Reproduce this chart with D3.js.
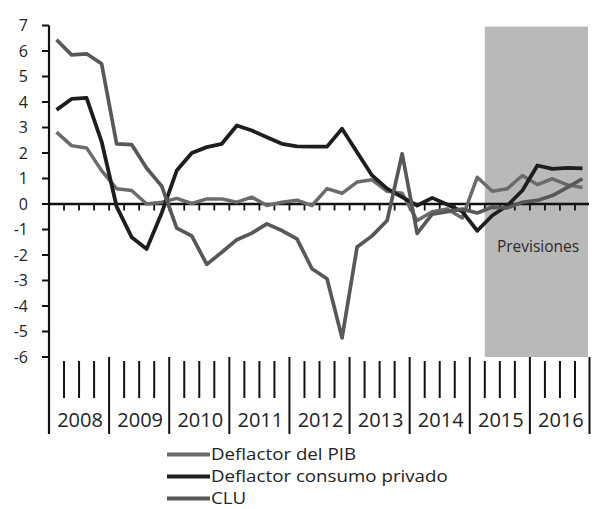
<!DOCTYPE html>
<html>
<head>
<meta charset="utf-8">
<script src="https://cdn.jsdelivr.net/npm/d3@7/dist/d3.min.js"></script>
<style>
  body { margin: 0; background: #fff; }
  text { font-family: "Open Sans", sans-serif; fill: #222; }
</style>
</head>
<body>
<div id="chart"></div>
<script>
var years = [2008, 2009, 2010, 2011, 2012, 2013, 2014, 2015, 2016]
var quarters = years.flatMap(y => ['I', 'II', 'III', 'IV'].map(q => y + ' ' + q))
var forecastFrom = '2015 II'

var yTicks = [7, 6, 5, 4, 3, 2, 1, 0, -1, -2, -3, -4, -5, -6]

var pib = [2.82, 2.29, 2.2, 1.31, 0.6, 0.53, 0.0, 0.07, 0.22, 0.02, 0.2, 0.2,
  0.07, 0.27, -0.06, 0.07, 0.15, -0.06, 0.6, 0.42, 0.86, 0.95, 0.5, 0.42,
  -0.65, -0.3, -0.2, -0.55, 1.05, 0.5, 0.6, 1.12, 0.76, 0.99, 0.75, 0.65]
var consumo = [3.69, 4.12, 4.16, 2.45, -0.1, -1.3, -1.76, -0.35, 1.31, 2.0, 2.23, 2.36,
  3.08, 2.88, 2.62, 2.36, 2.26, 2.25, 2.25, 2.95, 2.03, 1.12, 0.6, 0.27,
  -0.06, 0.24, -0.02, -0.3, -1.05, -0.45, -0.06, 0.53, 1.51, 1.38, 1.42, 1.4]
var clu = [6.44, 5.85, 5.89, 5.5, 2.36, 2.33, 1.4, 0.7, -0.95, -1.25, -2.37, -1.89,
  -1.4, -1.14, -0.78, -1.04, -1.37, -2.54, -2.93, -5.25, -1.69, -1.25, -0.65, 1.97,
  -1.15, -0.4, -0.3, -0.2, -0.35, -0.12, -0.15, 0.07, 0.14, 0.33, 0.65, 0.99]

var series = [
  {name: 'Deflactor del PIB', values: pib, color: '#6b6b6b', width: 3.5},
  {name: 'Deflactor consumo privado', values: consumo, color: '#1e1e1e', width: 3.8},
  {name: 'CLU', values: clu, color: '#585858', width: 3.7}
]

var svg = d3.select('#chart').append('svg').attr('width', 592).attr('height', 509)

var x = d3.scaleBand().domain(quarters).range([49, 590])
var y = d3.scaleLinear().domain([-6, 7]).range([357, 25.5])
var cx = q => x(q) + x.bandwidth() / 2

// forecast shading
svg.append('rect')
  .attr('x', x(forecastFrom)).attr('y', y(7) + 1)
  .attr('width', 588 - x(forecastFrom)).attr('height', y(-6) - y(7) - 1)
  .attr('fill', '#b9b9b9')

svg.append('text')
  .attr('x', 538).attr('y', 252)
  .attr('text-anchor', 'middle')
  .style('font-size', '15.5px').style('fill', '#2a2a2a')
  .text('Previsiones')

// y axis
var yAxis = svg.append('g')
yAxis.append('line')
  .attr('x1', 49).attr('x2', 49).attr('y1', y(7)).attr('y2', 434)
  .attr('stroke', '#111').attr('stroke-width', 2.2)
yAxis.selectAll('line.tick').data(yTicks).join('line')
  .attr('class', 'tick')
  .attr('x1', 42).attr('x2', 49).attr('y1', d => y(d)).attr('y2', d => y(d))
  .attr('stroke', '#111').attr('stroke-width', 2)
yAxis.selectAll('text').data(yTicks).join('text')
  .attr('x', 28).attr('y', d => y(d) + 5.8)
  .attr('text-anchor', 'end')
  .style('font-size', '16px')
  .text(d => d)

// zero line with quarter ticks
svg.append('line')
  .attr('x1', 49).attr('x2', 589).attr('y1', y(0)).attr('y2', y(0))
  .attr('stroke', '#111').attr('stroke-width', 2.4)
svg.selectAll('line.zt').data(quarters.slice(1)).join('line')
  .attr('class', 'zt')
  .attr('x1', d => x(d)).attr('x2', d => x(d))
  .attr('y1', y(0)).attr('y2', y(0) + 6.5)
  .attr('stroke', '#111').attr('stroke-width', 1.8)

// category area below the plot
svg.selectAll('line.qt').data(quarters.filter((d, i) => i % 4 != 0)).join('line')
  .attr('class', 'qt')
  .attr('x1', d => x(d)).attr('x2', d => x(d))
  .attr('y1', 361).attr('y2', 398)
  .attr('stroke', '#111').attr('stroke-width', 2)
var yearEdges = quarters.filter((d, i) => i % 4 == 0).slice(1).map(d => x(d)).concat([589.5])
svg.selectAll('line.yd').data(yearEdges).join('line')
  .attr('class', 'yd')
  .attr('x1', d => d).attr('x2', d => d)
  .attr('y1', 357).attr('y2', 434)
  .attr('stroke', '#111').attr('stroke-width', 2)
svg.selectAll('text.yr').data(years).join('text')
  .attr('class', 'yr')
  .attr('x', d => x(d + ' I') + x.step() * 2 + 1)
  .attr('y', 427)
  .attr('text-anchor', 'middle')
  .style('font-size', '20px')
  .text(d => d)

// lines
var line = d3.line().x((d, i) => cx(quarters[i])).y(d => y(d))
svg.selectAll('path.series').data(series).join('path')
  .attr('class', 'series')
  .attr('d', d => line(d.values))
  .attr('fill', 'none')
  .attr('stroke', d => d.color)
  .attr('stroke-width', d => d.width)
  .attr('stroke-linejoin', 'round')

// legend (text stretched a little sideways, like the source font)
var leg = svg.selectAll('g.leg').data(series).join('g')
  .attr('class', 'leg')
  .attr('transform', (d, i) => 'translate(167,' + (454.5 + i * 22) + ')')
leg.append('line')
  .attr('x1', 0).attr('x2', 43)
  .attr('stroke', d => d.color).attr('stroke-width', 4)
leg.append('text')
  .attr('transform', 'translate(44,5.8) scale(1.17,1)')
  .style('font-size', '16px')
  .text(d => d.name)
</script>
</body>
</html>
